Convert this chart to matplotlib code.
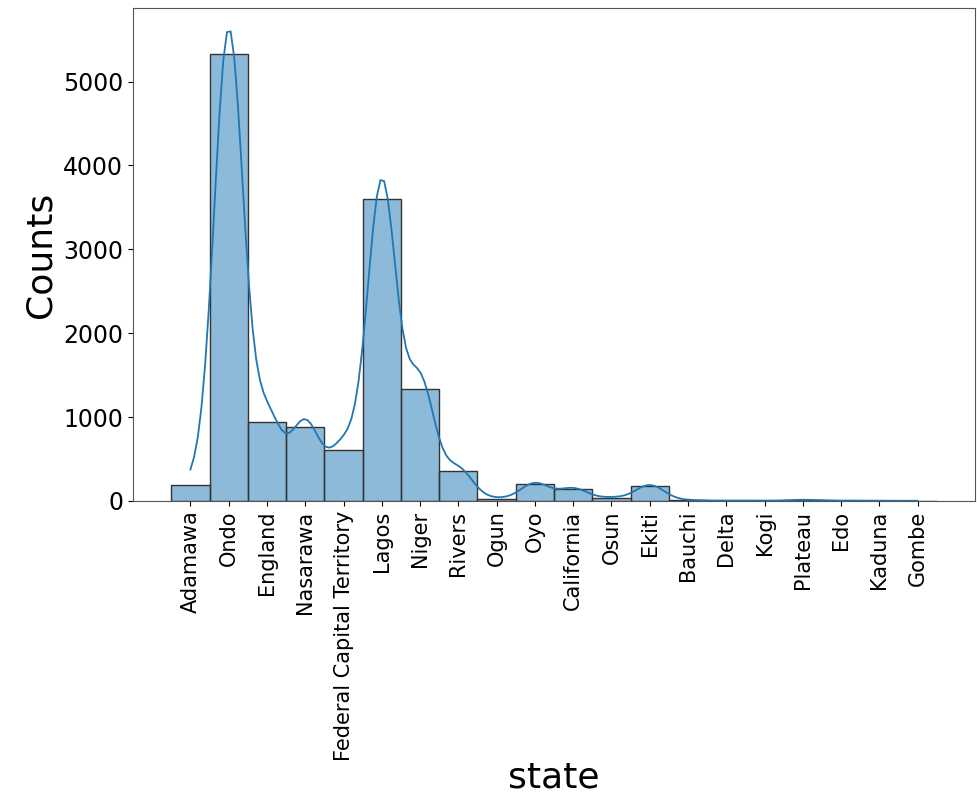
import numpy as np
import pandas as pd
import seaborn as sns
import matplotlib
matplotlib.use("Agg")
from matplotlib import pyplot as plt

# counts per state
states = ["Adamawa", "Ondo", "England", "Nasarawa", "Federal Capital Territory",
          "Lagos", "Niger", "Rivers", "Ogun", "Oyo", "California", "Osun",
          "Ekiti", "Bauchi", "Delta", "Kogi", "Plateau", "Edo", "Kaduna", "Gombe"]
counts = [190, 5330, 940, 880, 605, 3600, 1340, 355, 25, 200, 140, 35,
          178, 8, 3, 2, 12, 3, 2, 1]

df = pd.DataFrame({"state": np.repeat(states, counts)})

fig = plt.figure(figsize=(9.78, 7.95), dpi=100)
ax = fig.add_axes([0.136, 0.370, 0.861, 0.620])

sns.histplot(data=df, x="state", kde=True, ax=ax, edgecolor="#333333",
             line_kws={"linewidth": 1.3})

ax.set_xlabel("state", fontsize=26, labelpad=0)
ax.set_ylabel("Counts", fontsize=26)
ax.tick_params(axis="y", labelsize=17)
ax.tick_params(axis="x", labelsize=15, labelrotation=90)
for s in ax.spines.values():
    s.set_color("#555555")

fig.savefig("out.png", dpi=100)
